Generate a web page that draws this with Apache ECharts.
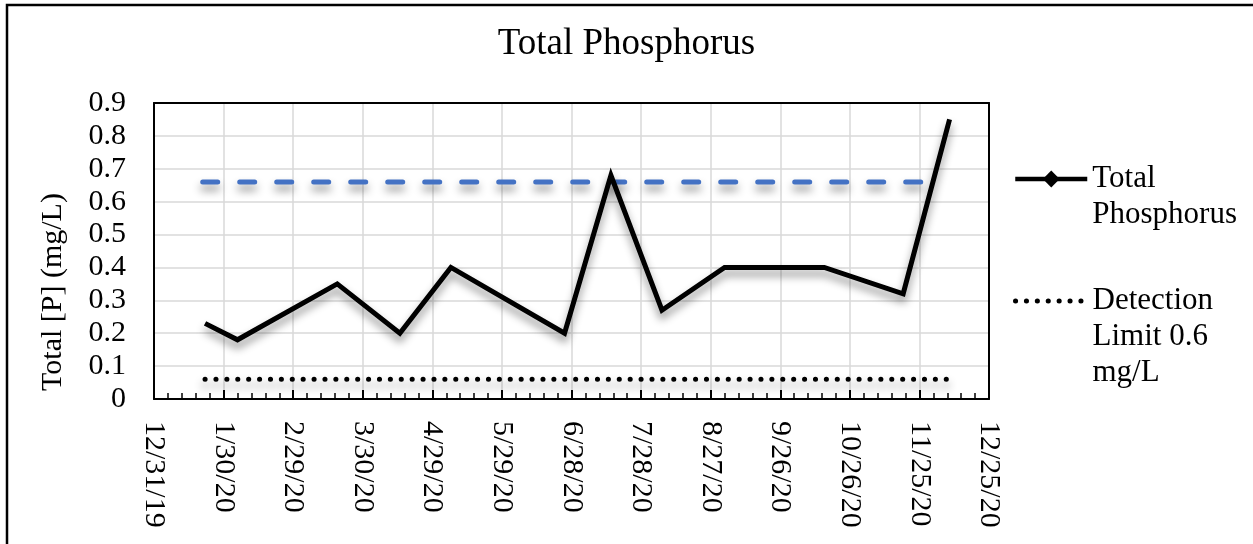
<!DOCTYPE html>
<html>
<head>
<meta charset="utf-8">
<script src="https://cdn.jsdelivr.net/npm/echarts@6/dist/echarts.min.js"></script>
<style>
	html, body { margin: 0; padding: 0; background: #fff; }
	#chart { width: 1253px; height: 544px; }
</style>
</head>
<body>
<div id="chart"></div>
<script>
// sample dates and total P readings (mg/L)
var sampleDates = ['2020-01-22', '2020-02-05', '2020-03-19', '2020-04-15', '2020-05-07', '2020-06-25',
	'2020-07-15', '2020-08-06', '2020-09-02', '2020-10-15', '2020-11-18', '2020-12-08'];
var totalP = [0.23, 0.18, 0.35, 0.20, 0.40, 0.20, 0.68, 0.27, 0.40, 0.40, 0.32, 0.85];

// detection limit (dotted) line
var limitDates = ['2020-01-22', '2020-12-08'];
var limitValues = [0.06, 0.06];

// blue dashed reference line
var refDates = ['2020-01-21', '2020-12-01'];
var refValues = [0.66, 0.66];

var startDate = '2019-12-31';
var DAY = 86400000;

function dayOf(s) {
	return (Date.parse(s) - Date.parse(startDate)) / DAY;
}
function pairs(dates, vals) {
	return dates.map(function (d, i) { return [dayOf(d), vals[i]]; });
}
function dateLabel(v) {
	var d = new Date(Date.parse(startDate) + v * DAY);
	return (d.getUTCMonth() + 1) + '/' + d.getUTCDate() + '/' + String(d.getUTCFullYear()).slice(2);
}

var font = 'Liberation Serif';
var shadow = {
	shadowColor: 'rgba(0,0,0,0.45)',
	shadowBlur: 8,
	shadowOffsetX: 0,
	shadowOffsetY: 6
};
var dotted = { color: '#000', width: 5, type: [0.1, 10.8], cap: 'round' };
var legendText = { fontFamily: font, fontSize: 31, lineHeight: 36, color: '#000' };

// blank lines in front keep the icon level with the first text line
function legendLabel(name) {
	if (name === 'Total Phosphorus') return '\nTotal\nPhosphorus';
	return '\n\nDetection\nLimit 0.6\nmg/L';
}

var myChart = echarts.init(document.getElementById('chart'));
var option = {
	animation: false,
	graphic: [{
		type: 'rect',
		shape: { x: 7, y: 5, width: 1300, height: 600 },
		style: { fill: 'none', stroke: '#000', lineWidth: 2.5 },
		silent: true
	}],
	title: {
		text: 'Total Phosphorus',
		left: 'center',
		top: 21,
		textStyle: { fontFamily: font, fontSize: 37, fontWeight: 'normal', color: '#000' }
	},
	legend: [
		{
			left: 1008,
			top: 120,
			itemWidth: 72,
			itemHeight: 21,
			data: [{ name: 'Total Phosphorus', lineStyle: { color: '#000', width: 4.5 } }],
			formatter: legendLabel,
			textStyle: legendText
		},
		{
			left: 1008,
			top: 206,
			itemWidth: 72,
			itemHeight: 21,
			data: [{
				name: 'Detection Limit 0.6 mg/L',
				itemStyle: { color: 'rgba(0,0,0,0)', borderWidth: 0 },
				lineStyle: dotted
			}],
			formatter: legendLabel,
			textStyle: legendText
		}
	],
	grid: {
		left: 154,
		top: 103,
		right: 264,
		bottom: 145,
		containLabel: false
	},
	xAxis: [
		{
			type: 'value',
			min: 0,
			max: 360,
			interval: 30,
			axisLine: { lineStyle: { color: '#000', width: 2 } },
			axisTick: { show: true, inside: true, length: 9, lineStyle: { color: '#000', width: 2 } },
			minorTick: { show: true, splitNumber: 5, length: 6, lineStyle: { color: '#000', width: 1.5 } },
			splitLine: { show: true, lineStyle: { color: '#d9d9d9', width: 1.5 } },
			axisLabel: {
				rotate: -90,
				margin: 22,
				fontFamily: font,
				fontSize: 30,
				color: '#000',
				formatter: dateLabel
			}
		},
		{
			// top frame of the plot
			type: 'value',
			position: 'top',
			min: 0,
			max: 360,
			axisLine: { show: true, onZero: false, lineStyle: { color: '#000', width: 2 } },
			axisTick: { show: false },
			axisLabel: { show: false },
			splitLine: { show: false }
		}
	],
	yAxis: [
		{
			type: 'value',
			min: 0,
			max: 0.9,
			interval: 0.1,
			name: 'Total [P] (mg/L)',
			nameLocation: 'middle',
			nameGap: 86,
			nameTextStyle: { fontFamily: font, fontSize: 30, color: '#000', padding: [0, 82, 0, 0] },
			axisLine: { show: true, lineStyle: { color: '#000', width: 2 } },
			axisTick: { show: false },
			splitLine: { show: true, lineStyle: { color: '#d9d9d9', width: 1.5 } },
			axisLabel: {
				margin: 28,
				fontFamily: font,
				fontSize: 30,
				color: '#000',
				formatter: function (v) { return v === 0 ? '0' : v.toFixed(1); }
			}
		},
		{
			// right frame of the plot
			type: 'value',
			position: 'right',
			min: 0,
			max: 0.9,
			axisLine: { show: true, onZero: false, lineStyle: { color: '#000', width: 2 } },
			axisTick: { show: false },
			axisLabel: { show: false },
			splitLine: { show: false }
		}
	],
	series: [
		{
			name: 'Blue reference',
			type: 'line',
			data: pairs(refDates, refValues),
			showSymbol: false,
			symbol: 'none',
			lineStyle: Object.assign({ color: '#4472c4', width: 5, type: [15, 22], cap: 'round' }, shadow),
			z: 3
		},
		{
			name: 'Detection Limit 0.6 mg/L',
			type: 'line',
			data: pairs(limitDates, limitValues),
			showSymbol: false,
			symbol: 'none',
			itemStyle: { color: '#000' },
			lineStyle: Object.assign({}, dotted, shadow),
			z: 3
		},
		{
			name: 'Total Phosphorus',
			type: 'line',
			data: pairs(sampleDates, totalP),
			symbol: 'diamond',
			showSymbol: false,
			itemStyle: { color: '#000' },
			lineStyle: Object.assign({ color: '#000', width: 5, join: 'miter' }, shadow),
			z: 4
		}
	]
};
myChart.setOption(option);
window.addEventListener('resize', function () {
	myChart.resize();
});
</script>
</body>
</html>
